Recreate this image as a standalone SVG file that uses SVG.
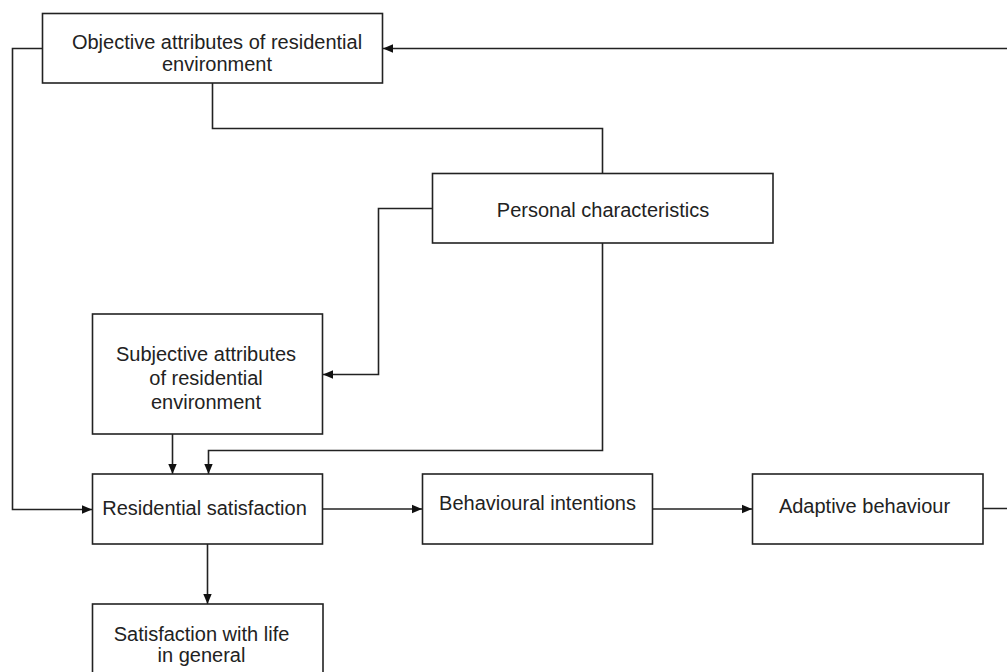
<svg xmlns="http://www.w3.org/2000/svg" width="1007" height="672" viewBox="0 0 1007 672">
  <style>
    .box { fill: #ffffff; stroke: #222222; stroke-width: 1.6; }
    .lbl { font-family: "Liberation Sans", Arial, sans-serif; font-size: 20px; fill: #222222; text-anchor: middle; }
    .conn { fill: none; stroke: #222222; stroke-width: 1.6; }
  </style>
  <defs>
    <marker id="arr" markerUnits="userSpaceOnUse" markerWidth="10" markerHeight="10" viewBox="0 0 10 10" refX="10" refY="5" orient="auto">
      <path d="M0,0.8 L10,5 L0,9.2 Z" fill="#111111"/>
    </marker>
  </defs>
  <rect width="1007" height="672" fill="#ffffff"/>

  <g id="connectors">
    <path class="conn" d="M42.5,48.5 H12.5 V509.5 H92" marker-end="url(#arr)"/>
    <path class="conn" d="M212.5,83 V128.5 H602.5 V173"/>
    <path class="conn" d="M432,208.5 H378.5 V374.5 H323" marker-end="url(#arr)"/>
    <path class="conn" d="M172.5,434 V474" marker-end="url(#arr)"/>
    <path class="conn" d="M602.5,243 V450.5 H208.5 V474" marker-end="url(#arr)"/>
    <path class="conn" d="M323,509 H422" marker-end="url(#arr)"/>
    <path class="conn" d="M652,509 H752" marker-end="url(#arr)"/>
    <path class="conn" d="M983,508.5 H1010 V48.5 H383" marker-end="url(#arr)"/>
    <path class="conn" d="M207.5,544 V604" marker-end="url(#arr)"/>
  </g>

  <g id="objective">
    <rect class="box" x="42.5" y="13.5" width="340" height="69.5"/>
    <text class="lbl" x="217" y="49">Objective attributes of residential</text>
    <text class="lbl" x="217" y="71">environment</text>
  </g>
  <g id="personal">
    <rect class="box" x="432.5" y="173.5" width="340.5" height="69.5"/>
    <text class="lbl" x="603" y="217">Personal characteristics</text>
  </g>
  <g id="subjective">
    <rect class="box" x="92.5" y="314" width="230" height="120"/>
    <text class="lbl" x="206" y="361">Subjective attributes</text>
    <text class="lbl" x="206" y="385">of residential</text>
    <text class="lbl" x="206" y="409">environment</text>
  </g>
  <g id="residential">
    <rect class="box" x="92.5" y="474" width="230" height="70"/>
    <text class="lbl" x="204.5" y="515">Residential satisfaction</text>
  </g>
  <g id="behavioural">
    <rect class="box" x="422.5" y="474" width="230" height="70"/>
    <text class="lbl" x="537.5" y="510">Behavioural intentions</text>
  </g>
  <g id="adaptive">
    <rect class="box" x="752.5" y="474" width="230.5" height="70"/>
    <text class="lbl" x="864.5" y="513">Adaptive behaviour</text>
  </g>
  <g id="lifesatisfaction">
    <rect class="box" x="92.5" y="604" width="230.5" height="90"/>
    <text class="lbl" x="201.5" y="641">Satisfaction with life</text>
    <text class="lbl" x="201.5" y="662">in general</text>
  </g>
</svg>
